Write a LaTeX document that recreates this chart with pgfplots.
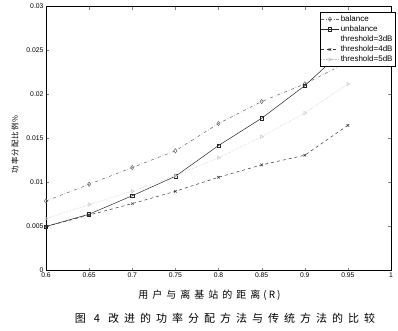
\documentclass[border=0pt]{standalone}
\usepackage{pgfplots}
\pgfplotsset{compat=1.18}
\usepackage{fontspec}
\setmainfont{Liberation Sans}
\newfontfamily\cjk{Noto Sans CJK SC}
\begin{document}
\begin{tikzpicture}
\useasboundingbox (-46pt,-59.5pt) rectangle (352pt,270.5pt);
\begin{axis}[
  scale only axis, width=345pt, height=264pt,
  xmin=0.6, xmax=1, ymin=0, ymax=0.03,
  xtick={0.6,0.65,0.7,0.75,0.8,0.85,0.9,0.95,1},
  ytick={0,0.005,0.01,0.015,0.02,0.025,0.03},
  scaled x ticks=false, scaled y ticks=false,
  xticklabel style={/pgf/number format/fixed, /pgf/number format/precision=2, yshift=1pt},
  yticklabel style={/pgf/number format/fixed, /pgf/number format/precision=3, xshift=1pt},
  /pgf/number format/assume math mode=true,
  tick label style={font=\fontsize{6.8}{7}\selectfont},
  tick align=inside, xtick pos=both, ytick pos=both,
  major tick length=3pt,
  axis line style={line width=0.6pt},
  legend style={at={(rel axis cs:1.014,0.978)}, anchor=north east,
    font=\fontsize{8}{9.4}\selectfont, inner sep=1pt, row sep=-1.2pt,
    cells={anchor=west}, draw=black, line width=0.5pt},
  every axis plot/.append style={line width=0.5pt},
]
\addplot[color=gray!80!black, dash dot, mark=diamond, mark size=2.2pt, mark options={solid}]
  coordinates {(0.6,0.0079) (0.65,0.0098) (0.7,0.0117) (0.75,0.0136) (0.8,0.0167) (0.85,0.0192) (0.9,0.0212) (0.95,0.0237)};
\addlegendentry{balance}
\addplot[color=black!85, solid, mark=square, mark size=1.6pt]
  coordinates {(0.6,0.0050) (0.65,0.0064) (0.7,0.0085) (0.75,0.0107) (0.8,0.0142) (0.85,0.0173) (0.9,0.0210) (0.95,0.0255)};
\addlegendentry{unbalance}
\addlegendimage{empty legend}
\addlegendentry{threshold=3dB}
\addplot[color=black!80, dashed, mark=x, mark size=1.8pt, mark options={solid}]
  coordinates {(0.6,0.0050) (0.65,0.0063) (0.7,0.0076) (0.75,0.0090) (0.8,0.0106) (0.85,0.0120) (0.9,0.0131) (0.95,0.0165)};
\addlegendentry{threshold=4dB}
\addplot[color=gray!45, densely dotted, mark=triangle, mark size=2pt, mark options={solid, rotate=-90}]
  coordinates {(0.6,0.0059) (0.65,0.0075) (0.7,0.0090) (0.75,0.0108) (0.8,0.0128) (0.85,0.0152) (0.9,0.0179) (0.95,0.0212)};
\addlegendentry{threshold=5dB}
\end{axis}
\node[font=\fontsize{10}{10}\cjk] at (163.5pt,-24.5pt)
  {用\hspace{4pt}户\hspace{4pt}与\hspace{4pt}离\hspace{4pt}基\hspace{4pt}站\hspace{4pt}的\hspace{4pt}距\hspace{4pt}离\hspace{3pt}(\hspace{2pt}R\hspace{2pt})};
\node[font=\fontsize{11}{11}\cjk] at (179pt,-47.5pt)
  {图\hspace{8pt}4\hspace{8pt}改\hspace{5pt}进\hspace{5pt}的\hspace{5pt}功\hspace{5pt}率\hspace{5pt}分\hspace{5pt}配\hspace{5pt}方\hspace{5pt}法\hspace{5pt}与\hspace{5pt}传\hspace{5pt}统\hspace{5pt}方\hspace{5pt}法\hspace{5pt}的\hspace{5pt}比\hspace{5pt}较};
\node[font=\fontsize{7.5}{7.5}\cjk, rotate=90] at (-31pt,126pt)
  {功\hspace{1pt}率\hspace{1pt}分\hspace{1pt}配\hspace{1pt}比\hspace{1pt}例\hspace{1pt}\%};
\end{tikzpicture}
\end{document}
